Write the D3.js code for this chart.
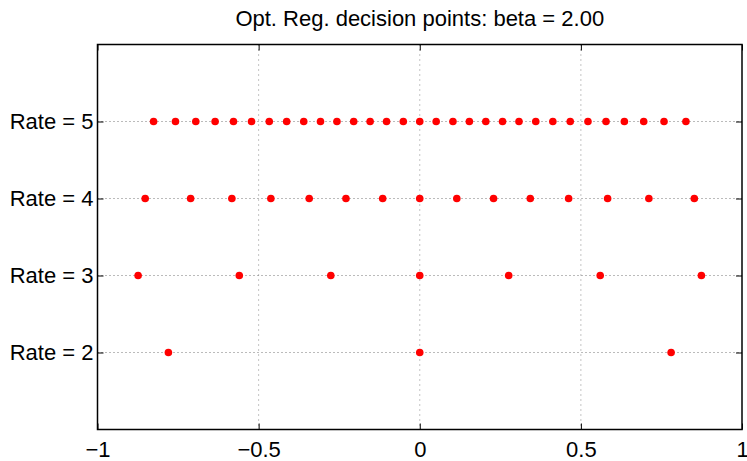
<!DOCTYPE html>
<html>
<head>
<meta charset="utf-8">
<script src="https://cdn.jsdelivr.net/npm/d3@7"></script>
<style>
  body { margin: 0; background: #fff; }
  text { font-family: "Liberation Sans", Arial, sans-serif; }
</style>
</head>
<body>
<svg id="chart"></svg>
<script>
// decision points, per rate
let rate5 = [-0.826, -0.758, -0.695, -0.635, -0.578, -0.522, -0.467, -0.413, -0.360, -0.308, -0.257, -0.205, -0.154, -0.103, -0.051, 0,
             0.051, 0.103, 0.154, 0.205, 0.257, 0.308, 0.360, 0.413, 0.467, 0.522, 0.578, 0.635, 0.695, 0.758, 0.826]
let rate4 = [-0.852, -0.711, -0.583, -0.462, -0.343, -0.229, -0.115, 0, 0.115, 0.229, 0.343, 0.462, 0.583, 0.711, 0.852]
let rate3 = [-0.874, -0.560, -0.276, 0, 0.276, 0.560, 0.874]
let rate2 = [-0.780, 0, 0.780]

let rates = [2, 3, 4, 5]
let pointsByRate = {2: rate2, 3: rate3, 4: rate4, 5: rate5}
let xTicks = [-1, -0.5, 0, 0.5, 1]
let xTickLabels = ["\u22121", "\u22120.5", "0", "0.5", "1"]
let yTickLabels = ["Rate = 2", "Rate = 3", "Rate = 4", "Rate = 5"]
let title = "Opt. Reg. decision points: beta = 2.00"

let svg = d3.select("#chart").attr("width", 747).attr("height", 461)

let mLeft = 97.5, mRight = 742, mTop = 44.5, mBottom = 429.5

let x = d3.scaleLinear().domain([-1, 1]).range([mLeft, mRight]),
    y = d3.scaleLinear().domain([1, 6]).range([mBottom, mTop])

function translate(x, y) {
    return "translate(" + x + ", " + y + ")"
}

// dotted grid
let grid = svg.append("g")
grid.selectAll(".vg").data(xTicks.slice(1, -1))
    .enter().append("line")
    .attr("x1", d => x(d)).attr("x2", d => x(d))
    .attr("y1", mTop).attr("y2", mBottom)
    .attr("stroke", "#888").attr("stroke-width", 1)
    .attr("stroke-dasharray", "1,4")
grid.selectAll(".hg").data(rates)
    .enter().append("line")
    .attr("x1", mLeft).attr("x2", mRight)
    .attr("y1", d => y(d)).attr("y2", d => y(d))
    .attr("stroke", "#777").attr("stroke-width", 1)
    .attr("stroke-dasharray", "1,3")

// points
let pts = []
rates.forEach(r => pointsByRate[r].forEach(v => pts.push({rate: r, value: v})))
svg.append("g").selectAll("circle").data(pts)
    .enter().append("circle")
    .attr("cx", d => x(d.value))
    .attr("cy", d => y(d.rate))
    .attr("r", 3.8)
    .style("fill", "#ff0000")

// axes, matlab style (ticks pointing in)
let xAxis = d3.axisBottom(x).tickValues(xTicks).tickSize(-6).tickPadding(12)
    .tickFormat((d, i) => xTickLabels[i])
let yAxis = d3.axisLeft(y).tickValues(rates).tickSize(-6).tickPadding(4)
    .tickFormat((d, i) => yTickLabels[i])

let gx = svg.append("g").attr("transform", translate(0, mBottom)).call(xAxis)
let gy = svg.append("g").attr("transform", translate(mLeft, 0)).call(yAxis)
svg.append("g").attr("transform", translate(0, mTop))
    .call(d3.axisTop(x).tickValues(xTicks).tickSize(-6).tickFormat(""))
svg.append("g").attr("transform", translate(mRight, 0))
    .call(d3.axisRight(y).tickValues(rates).tickSize(-6).tickFormat(""))

svg.selectAll(".domain").remove()
svg.selectAll(".tick line").attr("stroke", "#000")
gx.selectAll("text").style("font-size", "22px").attr("fill", "#000")
gy.selectAll("text").style("font-size", "22px").attr("fill", "#000")

svg.append("rect")
    .attr("x", mLeft).attr("y", mTop)
    .attr("width", mRight - mLeft).attr("height", mBottom - mTop)
    .attr("fill", "none").attr("stroke", "#000").attr("stroke-width", 1.5)

svg.append("text")
    .attr("x", (mLeft + mRight) / 2).attr("y", 26)
    .attr("text-anchor", "middle")
    .style("font-size", "22px")
    .text(title)
</script>
</body>
</html>
